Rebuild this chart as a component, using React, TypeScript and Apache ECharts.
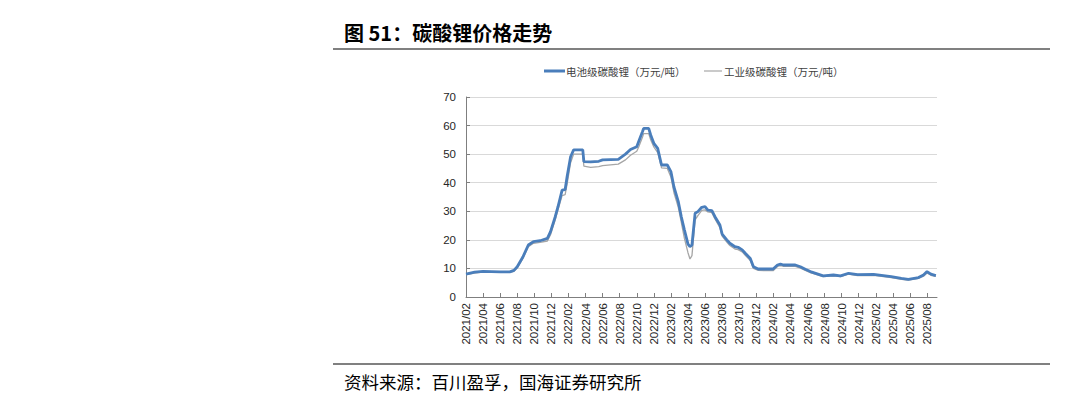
import React, { useEffect, useRef } from "react";
import * as echarts from "echarts";

const titleText = "图 51：碳酸锂价格走势";
const sourceText = "资料来源：百川盈孚，国海证券研究所";
const seriesNames = ["电池级碳酸锂（万元/吨）", "工业级碳酸锂（万元/吨）"];
const seriesColors = ["#4a7ebb", "#a6a6a6"];

const dates = [
  "2021-02-01", "2021-03-01", "2021-04-01", "2021-05-01", "2021-06-01", "2021-07-05", "2021-07-20",
  "2021-08-01", "2021-08-22", "2021-09-10", "2021-09-28", "2021-10-22", "2021-11-17", "2021-11-28",
  "2021-12-15", "2021-12-25", "2022-01-09", "2022-01-20", "2022-01-27", "2022-02-08", "2022-02-18",
  "2022-03-22", "2022-03-26", "2022-04-19", "2022-05-18", "2022-06-01", "2022-07-27", "2022-08-22",
  "2022-09-09", "2022-10-01", "2022-10-08", "2022-10-22", "2022-10-26", "2022-11-13", "2022-11-20",
  "2022-12-01", "2022-12-15", "2022-12-29", "2023-01-19", "2023-02-01", "2023-02-11", "2023-02-25",
  "2023-03-08", "2023-03-19", "2023-04-01", "2023-04-08", "2023-04-15", "2023-04-26", "2023-05-06",
  "2023-05-20", "2023-06-01", "2023-06-11", "2023-06-25", "2023-07-06", "2023-07-24", "2023-08-01",
  "2023-08-18", "2023-08-29", "2023-09-16", "2023-09-27", "2023-10-12", "2023-10-23", "2023-11-10",
  "2023-11-21", "2023-12-08", "2024-01-31", "2024-02-15", "2024-02-25", "2024-03-07", "2024-04-18",
  "2024-05-06", "2024-05-24", "2024-06-11", "2024-07-27", "2024-09-02", "2024-09-27", "2024-10-26",
  "2024-11-27", "2025-01-24", "2025-03-26", "2025-05-01", "2025-05-26", "2025-07-01", "2025-07-19",
  "2025-08-01", "2025-08-15", "2025-09-02",
];

const batteryGrade = [
  8.0, 8.7, 9.0, 8.9, 8.8, 8.8, 9.3,
  10.6, 14.1, 18.2, 19.4, 19.7, 20.5, 22.9,
  28.1, 31.6, 37.4, 37.6, 42.1, 49.1, 51.5,
  51.5, 47.4, 47.3, 47.5, 48.0, 48.2, 50.0,
  51.6, 52.6, 54.4, 57.9, 59.0, 59.0, 56.7,
  53.8, 52.0, 46.2, 46.2, 43.9, 38.5, 33.5,
  28.0, 23.5, 18.5, 17.6, 18.2, 29.3, 29.9,
  31.4, 31.6, 30.4, 30.2, 28.1, 25.2, 22.0,
  20.0, 18.8, 17.6, 17.4, 16.5, 15.3, 13.5,
  10.6, 9.8, 9.8, 11.2, 11.5, 11.2, 11.2,
  10.6, 9.7, 8.9, 7.4, 7.7, 7.4, 8.3,
  7.8, 7.9, 7.1, 6.5, 6.2, 6.8, 7.7,
  8.9, 8.0, 7.5,
];

const industrialGrade = [
  7.8, 8.4, 8.7, 8.6, 8.6, 8.6, 9.0,
  10.2, 13.6, 17.6, 18.8, 19.1, 19.6, 21.8,
  27.0, 30.5, 35.5, 35.8, 39.5, 47.0, 50.0,
  50.0, 45.8, 45.4, 45.6, 46.0, 46.5, 48.0,
  49.6, 51.0, 52.5, 56.0, 57.2, 57.2, 55.0,
  52.5, 50.5, 45.2, 45.0, 42.0, 36.5, 31.5,
  26.0, 20.5, 15.5, 13.3, 14.5, 27.0, 28.5,
  30.3, 30.5, 29.8, 29.5, 27.3, 24.3, 21.3,
  19.2, 18.0, 16.8, 16.6, 15.8, 14.6, 12.8,
  10.0, 9.3, 9.2, 10.7, 11.0, 10.7, 10.7,
  10.1, 9.3, 8.5, 7.1, 7.4, 7.1, 8.0,
  7.5, 7.6, 6.8, 6.2, 5.9, 6.5, 7.3,
  8.4, 7.6, 7.2,
];

const xTickLabels = [
  "2021/02", "2021/04", "2021/06", "2021/08", "2021/10", "2021/12",
  "2022/02", "2022/04", "2022/06", "2022/08", "2022/10", "2022/12",
  "2023/02", "2023/04", "2023/06", "2023/08", "2023/10", "2023/12",
  "2024/02", "2024/04", "2024/06", "2024/08", "2024/10", "2024/12",
  "2025/02", "2025/04", "2025/06", "2025/08",
];

const axisStart = "2021-02-01";
const axisEnd = "2025-09-06";

// Fractional month count since axisStart (2021-02-01)
function monthPos(d: string): number {
  const [y, m, day] = d.split("-").map((s) => parseInt(s, 10));
  const [y0, m0] = axisStart.split("-").map((s) => parseInt(s, 10));
  const dim = new Date(Date.UTC(y, m, 0)).getUTCDate();
  return (y - y0) * 12 + (m - m0) + (day - 1) / dim;
}

export default function App() {
  const ref = useRef<HTMLDivElement>(null);
  useEffect(() => {
    if (!ref.current) return;
    const chart = echarts.init(ref.current, undefined, { renderer: "svg" });
    const cjk = '"Noto Sans CJK SC", sans-serif';
    const latin = '"Liberation Sans", Arial, sans-serif';
    chart.setOption({
      animation: false,
      backgroundColor: "#ffffff",
      grid: { left: 466, right: 143, top: 97, bottom: 102, containLabel: false },
      legend: { show: false },
      xAxis: {
        type: "value",
        min: 0,
        max: monthPos(axisEnd),
        interval: 2,
        axisLine: { show: true, lineStyle: { color: "#7f7f7f", width: 1 } },
        axisTick: { show: true, inside: true, length: 4, lineStyle: { color: "#7f7f7f" } },
        axisLabel: {
          rotate: 90,
          margin: 6,
          fontSize: 11.5,
          color: "#262626",
          fontFamily: latin,
          showMaxLabel: false,
          formatter: (v: number) => {
            const i = v / 2;
            return Number.isInteger(i) && xTickLabels[i] ? xTickLabels[i] : "";
          },
        },
        splitLine: { show: false },
      },
      yAxis: {
        type: "value",
        min: 0,
        max: 70,
        interval: 10,
        axisLine: { show: true, lineStyle: { color: "#7f7f7f", width: 1 } },
        axisTick: { show: true, inside: true, length: 4, lineStyle: { color: "#7f7f7f" } },
        axisLabel: { fontSize: 11.5, color: "#262626", fontFamily: latin, margin: 10 },
        splitLine: { show: true, lineStyle: { color: "#d9d9d9", width: 1 } },
      },
      series: [
        {
          name: seriesNames[1],
          type: "line",
          symbol: "none",
          z: 2,
          lineStyle: { color: seriesColors[1], width: 1.3 },
          itemStyle: { color: seriesColors[1] },
          data: dates.map((d, i) => [monthPos(d), industrialGrade[i]]),
        },
        {
          name: seriesNames[0],
          type: "line",
          symbol: "none",
          z: 3,
          lineStyle: { color: seriesColors[0], width: 2.8 },
          itemStyle: { color: seriesColors[0] },
          data: dates.map((d, i) => [monthPos(d), batteryGrade[i]]),
        },
      ],
      graphic: [
        {
          type: "text",
          left: 344,
          top: 22,
          style: { text: titleText, fontSize: 20, fontWeight: "bold", fill: "#000000", fontFamily: cjk },
        },
        {
          type: "rect",
          shape: { x: 333, y: 48, width: 717, height: 2 },
          style: { fill: "#808080" },
        },
        {
          type: "line",
          shape: { x1: 544, y1: 71, x2: 565, y2: 71 },
          style: { stroke: seriesColors[0], lineWidth: 3 },
        },
        {
          type: "text",
          x: 566,
          y: 71,
          style: { text: seriesNames[0], fontSize: 10.5, fill: "#404040", fontFamily: cjk, verticalAlign: "middle" },
        },
        {
          type: "line",
          shape: { x1: 704, y1: 71, x2: 722, y2: 71 },
          style: { stroke: seriesColors[1], lineWidth: 1.2 },
        },
        {
          type: "text",
          x: 724,
          y: 71,
          style: { text: seriesNames[1], fontSize: 10.5, fill: "#404040", fontFamily: cjk, verticalAlign: "middle" },
        },
        {
          type: "rect",
          shape: { x: 333, y: 363, width: 717, height: 2 },
          style: { fill: "#808080" },
        },
        {
          type: "text",
          left: 344,
          top: 373,
          style: { text: sourceText, fontSize: 17.5, fill: "#000000", fontFamily: cjk },
        },
      ],
    });
    return () => chart.dispose();
  }, []);
  return <div ref={ref} style={{ position: "absolute", left: 0, top: 0, width: 1080, height: 399 }} />;
}
